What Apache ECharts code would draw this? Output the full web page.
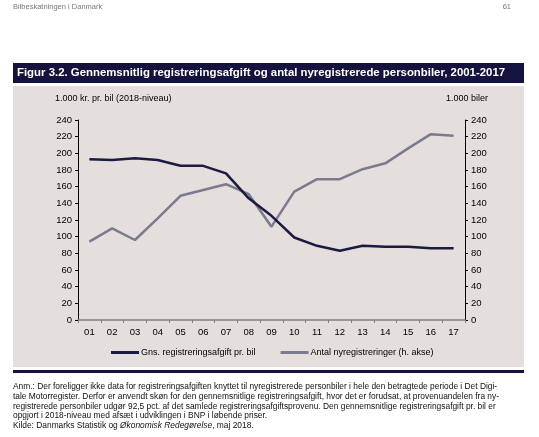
<!DOCTYPE html>
<html>
<head>
<meta charset="utf-8">
<script src="https://cdn.jsdelivr.net/npm/echarts@6/dist/echarts.min.js"></script>
<style>
html,body{margin:0;padding:0;background:#fff;}
#c{width:539px;height:437px;}
</style>
</head>
<body>
<div id="c"></div>
<script>
const years = ['01','02','03','04','05','06','07','08','09','10','11','12','13','14','15','16','17'];
const afgift = [193,192,194,192,185,185,176,146,125,99,89,83,89,88,88,86,86];
const nyreg = [94,110,96,122,149,156,163,151,112,154,169,169,181,188,206,223,221];
const yTicks = {min:0, max:240, interval:20};
const seriesNames = ['Gns. registreringsafgift pr. bil','Antal nyregistreringer (h. akse)'];
const titleText = 'Figur 3.2. Gennemsnitlig registreringsafgift og antal nyregistrerede personbiler, 2001-2017';
const leftName = '1.000 kr. pr. bil (2018-niveau)';
const rightName = '1.000 biler';
const noteLines = [
 'Anm.: Der foreligger ikke data for registreringsafgiften knyttet til nyregistrerede personbiler i hele den betragtede periode i Det Digi-',
 'tale Motorregister. Derfor er anvendt skøn for den gennemsnitlige registreringsafgift, hvor det er forudsat, at provenuandelen fra ny-',
 'registrerede personbiler udgør 92,5 pct. af det samlede registreringsafgiftsprovenu. Den gennemsnitlige registreringsafgift pr. bil er',
 'opgjort i 2018-niveau med afsæt i udviklingen i BNP i løbende priser.'
];

const FONT = '"Liberation Sans", Arial, sans-serif';
const chart = echarts.init(document.getElementById('c'), null, {renderer:'canvas'});

const graphics = [
  {type:'text', left:13, top:3, style:{text:'Bilbeskatningen i Danmark', font:'7.5px '+FONT, fill:'#777'}},
  {type:'text', right:28, top:3, style:{text:'61', font:'7.5px '+FONT, fill:'#777'}},
  {type:'rect', shape:{x:13, y:63, width:511, height:20}, style:{fill:'#13133d'}, z:-10},
  {type:'text', left:17, top:67, style:{text:titleText, font:'bold 11.4px '+FONT, fill:'#fff'}},
  {type:'rect', shape:{x:13, y:86, width:511, height:281}, style:{fill:'#e4dfdd'}, z:-10},
  {type:'rect', shape:{x:13, y:370, width:511, height:3}, style:{fill:'#13133d'}, z:-10},
  {type:'text', left:55, top:94, style:{text:leftName, font:'9px '+FONT, fill:'#000'}},
  {type:'text', left:446, top:94, style:{text:rightName, font:'9px '+FONT, fill:'#000'}}
];
noteLines.forEach((t,i)=>{
  graphics.push({type:'text', left:13, top:383+i*9.6, style:{text:t, font:'8.4px '+FONT, fill:'#111'}});
});
graphics.push({type:'text', left:13, top:383+4*9.6, style:{
  text:'{a|Kilde: Danmarks Statistik og }{b|Økonomisk Redegørelse}{a|, maj 2018.}',
  rich:{a:{font:'8.4px '+FONT, fill:'#111'}, b:{font:'italic 8.4px '+FONT, fill:'#111'}}
}});

const yAxisCommon = {
  type:'value', min:yTicks.min, max:yTicks.max, interval:yTicks.interval,
  axisLine:{show:true, lineStyle:{color:'#000', width:1}},
  axisTick:{show:true, length:3, lineStyle:{color:'#000'}},
  splitLine:{show:false},
  axisLabel:{color:'#000', fontSize:9.5, fontFamily:FONT, margin:6}
};

chart.setOption({
  animation:false,
  backgroundColor:'#fff',
  textStyle:{fontFamily:FONT},
  grid:{left:78, right:74, top:120, bottom:117, containLabel:false},
  legend:{
    left:106, top:343, itemWidth:28, itemHeight:3, itemGap:25, icon:'rect',
    textStyle:{color:'#000', fontSize:9, fontFamily:FONT, padding:[0,0,0,-3]},
    data:seriesNames
  },
  xAxis:{
    type:'category', data:years, boundaryGap:true,
    axisLine:{show:true, lineStyle:{color:'#808080', width:1.5}},
    axisTick:{show:true, length:3, lineStyle:{color:'#808080'}},
    axisLabel:{color:'#000', fontSize:9.5, fontFamily:FONT, margin:7}
  },
  yAxis:[Object.assign({}, yAxisCommon, {position:'left'}), Object.assign({}, yAxisCommon, {position:'right'})],
  series:[
    {name:seriesNames[0], type:'line', data:afgift, yAxisIndex:0, symbol:'none',
     lineStyle:{color:'#1a1a42', width:2.5}, itemStyle:{color:'#1a1a42'}, z:3},
    {name:seriesNames[1], type:'line', data:nyreg, yAxisIndex:1, symbol:'none',
     lineStyle:{color:'#7b7a8e', width:2.5}, itemStyle:{color:'#7b7a8e'}, z:2}
  ],
  graphic:graphics
});
</script>
</body>
</html>
